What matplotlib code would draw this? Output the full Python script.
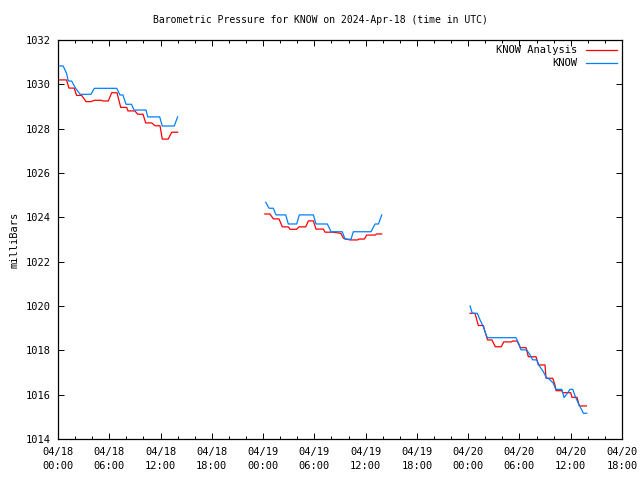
import matplotlib
matplotlib.use("Agg")
import matplotlib.pyplot as plt
from matplotlib.ticker import MultipleLocator

# hours since 2024-04-18 00:00 UTC
B1_t = [0.2, 0.6, 1.0, 1.2, 1.6, 1.8, 2.1, 2.6, 3.86, 4.25, 6.87, 7.25, 7.6, 7.96, 8.6, 8.9, 10.3, 10.5, 11.9, 12.2, 13.6, 14.0]
B1_v = [1030.83, 1030.83, 1030.5, 1030.15, 1030.15, 1030.0, 1029.8, 1029.55, 1029.55, 1029.82, 1029.82, 1029.52, 1029.52, 1029.1, 1029.1, 1028.84, 1028.84, 1028.53, 1028.53, 1028.12, 1028.12, 1028.53]
R1_t = [0.0, 1.0, 1.28, 1.9, 2.17, 2.77, 3.28, 3.86, 4.25, 5.1, 5.2, 5.89, 6.28, 6.9, 7.34, 8.04, 8.19, 9.0, 9.33, 9.95, 10.26, 10.97, 11.35, 11.94, 12.2, 12.9, 13.3, 14.0]
R1_v = [1030.2, 1030.2, 1029.83, 1029.83, 1029.5, 1029.5, 1029.22, 1029.22, 1029.28, 1029.28, 1029.25, 1029.25, 1029.62, 1029.62, 1028.96, 1028.96, 1028.8, 1028.8, 1028.65, 1028.65, 1028.26, 1028.26, 1028.13, 1028.13, 1027.53, 1027.53, 1027.84, 1027.84]

B2_t = [24.31, 24.69, 25.2, 25.51, 26.65, 26.95, 27.93, 28.24, 29.88, 30.19, 31.52, 31.95, 33.27, 33.59, 34.29, 34.56, 36.63, 37.1, 37.5, 37.88]
B2_v = [1024.68, 1024.41, 1024.41, 1024.11, 1024.11, 1023.70, 1023.70, 1024.11, 1024.11, 1023.70, 1023.70, 1023.35, 1023.35, 1023.01, 1023.01, 1023.35, 1023.35, 1023.70, 1023.70, 1024.11]
R2_t = [24.2, 24.8, 25.2, 25.86, 26.25, 26.95, 27.15, 27.93, 28.2, 28.99, 29.3, 29.88, 30.19, 31.05, 31.25, 32.1, 33.1, 33.39, 34.17, 35.07, 35.22, 35.85, 36.12, 37.1, 37.3, 37.88]
R2_v = [1024.15, 1024.15, 1023.93, 1023.93, 1023.57, 1023.57, 1023.46, 1023.46, 1023.57, 1023.57, 1023.84, 1023.84, 1023.47, 1023.47, 1023.33, 1023.33, 1023.28, 1023.06, 1022.98, 1022.98, 1023.02, 1023.02, 1023.2, 1023.2, 1023.25, 1023.25]

B3_t = [48.22, 48.48, 49.07, 49.39, 49.77, 49.97, 50.24, 53.6, 53.99, 54.18, 54.85, 55.24, 55.55, 56.02, 56.33, 56.79, 57.19, 57.38, 57.96, 58.24, 58.95, 59.22, 59.6, 59.92, 60.24, 60.54, 60.89, 61.29, 61.48, 61.87]
B3_v = [1020.0, 1019.67, 1019.67, 1019.37, 1019.07, 1018.84, 1018.57, 1018.57, 1018.24, 1018.02, 1018.02, 1017.79, 1017.57, 1017.57, 1017.30, 1017.04, 1016.74, 1016.74, 1016.52, 1016.24, 1016.24, 1015.87, 1016.06, 1016.24, 1016.24, 1015.91, 1015.61, 1015.31, 1015.16, 1015.16]
R3_t = [48.22, 48.8, 49.19, 49.77, 49.97, 50.27, 50.78, 51.17, 51.87, 52.16, 53.05, 53.2, 53.72, 54.1, 54.77, 55.04, 55.94, 56.21, 56.99, 57.11, 57.89, 58.16, 58.28, 58.95, 59.06, 60.0, 60.15, 60.74, 61.01, 61.83]
R3_v = [1019.67, 1019.67, 1019.12, 1019.12, 1018.84, 1018.47, 1018.47, 1018.16, 1018.16, 1018.38, 1018.38, 1018.42, 1018.42, 1018.12, 1018.12, 1017.71, 1017.71, 1017.34, 1017.34, 1016.74, 1016.74, 1016.44, 1016.18, 1016.18, 1016.09, 1016.09, 1015.88, 1015.88, 1015.49, 1015.49]

x_ticks = [0, 6, 12, 18, 24, 30, 36, 42, 48, 54, 60, 66]
x_labels = ["04/18\n00:00", "04/18\n06:00", "04/18\n12:00", "04/18\n18:00",
            "04/19\n00:00", "04/19\n06:00", "04/19\n12:00", "04/19\n18:00",
            "04/20\n00:00", "04/20\n06:00", "04/20\n12:00", "04/20\n18:00"]
y_ticks = [1014, 1016, 1018, 1020, 1022, 1024, 1026, 1028, 1030, 1032]

plt.rcParams['font.family'] = ['DejaVu Sans Mono']
FS = 7.5

fig = plt.figure(figsize=(6.4, 4.8), dpi=100)
ax = fig.add_axes([58/640, 1-439/480, (622-58)/640, (439-40)/480])

red = '#ff0000'
blue = '#0080ff'
lw = 0.9
for i, (t, v) in enumerate([(R1_t, R1_v), (R2_t, R2_v), (R3_t, R3_v)]):
    ax.plot(t, v, color=red, lw=lw, label='KNOW Analysis' if i == 0 else None, zorder=2)
for i, (t, v) in enumerate([(B1_t, B1_v), (B2_t, B2_v), (B3_t, B3_v)]):
    ax.plot(t, v, color=blue, lw=lw, label='KNOW' if i == 0 else None, zorder=3)

ax.set_xlim(0, 66)
ax.set_ylim(1014, 1032)
ax.set_xticks(x_ticks)
ax.set_xticklabels(x_labels, fontsize=FS, linespacing=1.45)
ax.set_yticks(y_ticks)
ax.set_yticklabels([str(y) for y in y_ticks], fontsize=FS)
ax.xaxis.set_minor_locator(MultipleLocator(2))
ax.tick_params(which='both', direction='in', top=True, right=True)
ax.tick_params(which='major', length=4.5, width=0.7)
ax.tick_params(axis='x', which='major', pad=6)
ax.tick_params(axis='y', which='major', pad=5)
ax.tick_params(which='minor', length=2.5, width=0.7)
for s in ax.spines.values():
    s.set_linewidth(0.9)

ax.set_ylabel('milliBars', fontsize=FS, labelpad=5)
fig.text(0.5, 1-20/480, 'Barometric Pressure for KNOW on 2024-Apr-18 (time in UTC)',
         ha='center', va='center', fontsize=7)

leg = ax.legend(loc='upper right', markerfirst=False, frameon=False, fontsize=FS,
                handlelength=3.0, borderaxespad=0.3, borderpad=0.2,
                labelspacing=0.3, handletextpad=0.8)
for t in leg.get_texts():
    t.set_ha('right')
leg._legend_box.align = 'right'

fig.savefig('out.png', dpi=100)
